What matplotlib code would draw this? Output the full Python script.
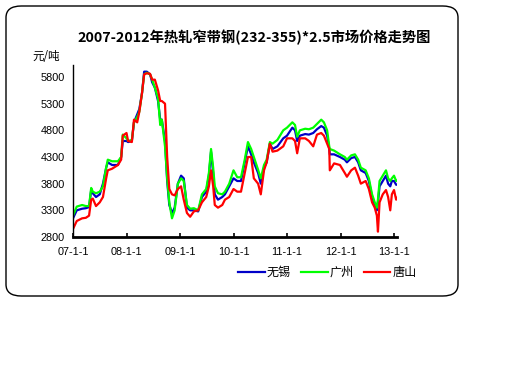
import matplotlib
matplotlib.use("Agg")
import matplotlib.pyplot as plt
from matplotlib.patches import FancyBboxPatch

plt.rcParams['font.family'] = ['Noto Sans CJK SC', 'DejaVu Sans']

# time in decimal years, prices in yuan/ton
years = [2007.00, 2007.07, 2007.17, 2007.24, 2007.30, 2007.34, 2007.37, 2007.43, 2007.50,
         2007.56, 2007.62, 2007.65, 2007.73, 2007.84, 2007.90, 2007.93, 2008.00, 2008.03,
         2008.10, 2008.14, 2008.20, 2008.24, 2008.29, 2008.33, 2008.38, 2008.44, 2008.48,
         2008.53, 2008.59, 2008.63, 2008.66, 2008.72, 2008.76, 2008.80, 2008.85, 2008.90,
         2008.96, 2009.02, 2009.07, 2009.13, 2009.19, 2009.26, 2009.34, 2009.41, 2009.49,
         2009.54, 2009.58, 2009.62, 2009.65, 2009.71, 2009.79, 2009.84, 2009.92, 2010.00,
         2010.07, 2010.14, 2010.21, 2010.27, 2010.33, 2010.38, 2010.46, 2010.51, 2010.57,
         2010.62, 2010.68, 2010.73, 2010.82, 2010.93, 2011.00, 2011.10, 2011.15, 2011.19,
         2011.24, 2011.34, 2011.41, 2011.49, 2011.56, 2011.64, 2011.69, 2011.75, 2011.79,
         2011.80, 2011.88, 2011.99, 2012.08, 2012.12, 2012.20, 2012.27, 2012.33, 2012.38,
         2012.47, 2012.53, 2012.59, 2012.64, 2012.68, 2012.70, 2012.73, 2012.79, 2012.85,
         2012.89, 2012.93, 2012.96, 2013.00, 2013.04, 2013.07]

guangzhou = [3200, 3370, 3400, 3380, 3380, 3720, 3650, 3620, 3650,
             3750, 4100, 4250, 4220, 4220, 4300, 4720, 4650, 4600,
             4620, 4950, 5050, 5150, 5500, 5850, 5880, 5850, 5750,
             5600, 5400, 4900, 5000, 4500, 3900, 3450, 3150, 3300,
             3800, 3900, 3850, 3400, 3330, 3340, 3300, 3600, 3700,
             4000, 4450, 4100, 3750, 3620, 3600, 3650, 3800, 4050,
             3920, 3920, 4250, 4580, 4450, 4300, 4060, 3900, 4150,
             4250, 4580, 4550, 4620, 4800, 4850, 4950, 4900, 4680,
             4800, 4830, 4820, 4850, 4920, 5000, 4950, 4800, 4500,
             4450, 4420, 4350, 4300, 4250, 4330, 4350, 4250, 4100,
             4050, 3900, 3600, 3450, 3350, 3500, 3850, 3950, 4050,
             3900, 3850, 3900, 3950, 3850, 3870]

wuxi = [3150, 3300, 3330, 3340, 3360, 3680, 3620, 3550, 3600,
        3800, 4100, 4200, 4150, 4150, 4300, 4600, 4600, 4580,
        4600, 4950, 5100, 5200, 5500, 5900, 5900, 5850, 5700,
        5600, 5350, 5000, 5000, 4600, 3850, 3400, 3250, 3350,
        3800, 3950, 3900, 3350, 3300, 3300, 3280, 3550, 3650,
        3950, 4400, 4000, 3600, 3500, 3550, 3600, 3750, 3900,
        3850, 3850, 4200, 4500, 4350, 4200, 4000, 3800, 4100,
        4200, 4550, 4450, 4500, 4650, 4700, 4850, 4800, 4600,
        4700, 4730, 4720, 4750, 4820, 4880, 4850, 4700, 4450,
        4350, 4350, 4300, 4250, 4200, 4280, 4300, 4200, 4050,
        4000, 3850, 3550, 3400, 3300, 3450, 3750, 3850, 3950,
        3800, 3750, 3850, 3850, 3780, 3780]

tangshan = [2950, 3100, 3150, 3160, 3200, 3500, 3520, 3380, 3450,
            3550, 3900, 4050, 4080, 4150, 4250, 4700, 4750, 4600,
            4580, 5000, 4950, 5150, 5500, 5850, 5870, 5860, 5750,
            5750, 5550, 5350, 5350, 5300, 4300, 3700, 3600, 3580,
            3700, 3750, 3500, 3250, 3180, 3280, 3300, 3450, 3550,
            3750, 4050, 3750, 3400, 3350, 3400, 3500, 3550, 3700,
            3650, 3650, 4000, 4300, 4300, 3900, 3800, 3600, 4050,
            4200, 4550, 4400, 4420, 4500, 4650, 4650, 4600, 4370,
            4650, 4650, 4600, 4500, 4720, 4750, 4700, 4550, 4450,
            4050, 4180, 4150, 4000, 3930, 4050, 4100, 3950, 3800,
            3850, 3700, 3450, 3350, 3200, 2900, 3450, 3600, 3680,
            3550, 3300, 3600, 3680, 3500, 3550]

tick_years = [2007, 2008, 2009, 2010, 2011, 2012, 2013]
tick_labels = ['07-1-1', '08-1-1', '09-1-1', '10-1-1', '11-1-1', '12-1-1', '13-1-1']
y_ticks = [2800, 3300, 3800, 4300, 4800, 5300, 5800]

fig = plt.figure(figsize=(5.12, 3.84), dpi=100)
fig.patch.set_facecolor('white')

# rounded frame around the chart
frame = FancyBboxPatch((6 / 512, 1 - 296 / 384), 452 / 512, 290 / 384,
                       boxstyle="round,pad=0,rounding_size=0.03",
                       transform=fig.transFigure, facecolor='none',
                       edgecolor='black', linewidth=1.0)
fig.patches.append(frame)

ax = fig.add_axes([73 / 512, 1 - 237 / 384, 324 / 512, 172 / 384])
ax.plot(years, wuxi, color='#0000c8', lw=1.6, label='无锡')
ax.plot(years, guangzhou, color='#00ff00', lw=1.6, label='广州')
ax.plot(years, tangshan, color='#ff0000', lw=1.6, label='唐山')

ax.set_xlim(2007.0, 2013.056)
ax.set_ylim(2800, 6025)
ax.set_xticks(tick_years)
ax.set_xticklabels(tick_labels, family=['Liberation Sans'], fontsize=7.8)
ax.set_yticks(y_ticks)
ax.set_yticklabels([str(v) for v in y_ticks], family=['Liberation Sans'], fontsize=7.8)
ax.tick_params(axis='x', direction='in', length=3, width=1.2, pad=7)
ax.tick_params(axis='y', length=0, pad=6)
for side in ['top', 'right']:
    ax.spines[side].set_visible(False)
ax.spines['left'].set_linewidth(1.0)
ax.spines['bottom'].set_linewidth(2.0)

fig.text(254 / 512, 1 - 37 / 384, '2007-2012年热轧窄带钢(232-355)*2.5市场价格走势图',
         ha='center', va='center', fontsize=10.3, fontweight='bold')
fig.text(46 / 512, 1 - 57 / 384, '元/吨', ha='center', va='center', fontsize=8.3)

ax.legend(loc='upper left', bbox_to_anchor=(238 / 512, 1 - 266 / 384),
          bbox_transform=fig.transFigure, ncol=3, frameon=False,
          fontsize=8.7, handlelength=2.2, handletextpad=0.2, columnspacing=0.8,
          borderpad=0, borderaxespad=0)

fig.savefig('out.png', dpi=100)
